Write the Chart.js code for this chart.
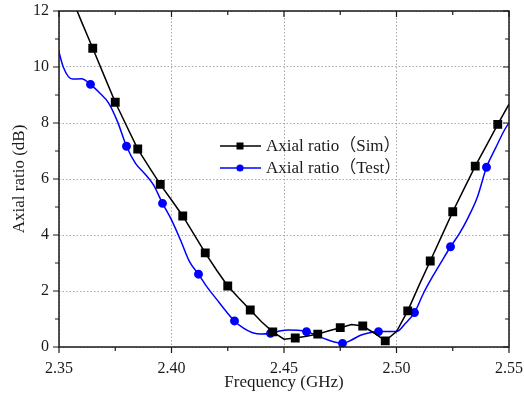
<!DOCTYPE html>
<html>
<head>
<meta charset="utf-8">
<script src="https://cdn.jsdelivr.net/npm/chart.js@4.4.1/dist/chart.umd.min.js"></script>
<style>
html, body { margin: 0; padding: 0; background: #fff; }
#wrap { width: 524px; height: 398px; }
</style>
</head>
<body>
<div id="wrap"><canvas id="arChart" width="524" height="398"></canvas></div>
<script>
// simulated axial ratio (dB) vs frequency (GHz)
const simFreq = [2.355, 2.360, 2.365, 2.370, 2.375, 2.380, 2.385, 2.390, 2.395, 2.400,
                 2.405, 2.410, 2.415, 2.420, 2.425, 2.430, 2.435, 2.440, 2.445, 2.450,
                 2.455, 2.460, 2.465, 2.470, 2.475, 2.480, 2.485, 2.490, 2.495, 2.500,
                 2.505, 2.510, 2.515, 2.520, 2.525, 2.530, 2.535, 2.540, 2.545, 2.550];
const simAR = [12.6, 11.62, 10.67, 9.7, 8.74, 7.9, 7.07, 6.43, 5.81, 5.25,
               4.68, 4.02, 3.36, 2.75, 2.18, 1.74, 1.32, 0.9, 0.54, 0.28,
               0.32, 0.38, 0.46, 0.58, 0.69, 0.8, 0.75, 0.5, 0.22, 0.55,
               1.29, 2.2, 3.07, 3.95, 4.83, 5.65, 6.46, 7.2, 7.95, 8.67];

// measured axial ratio
const testFreq = [2.348, 2.352, 2.356, 2.360, 2.364, 2.368, 2.372, 2.376, 2.380, 2.384,
                  2.388, 2.392, 2.396, 2.400, 2.404, 2.408, 2.412, 2.416, 2.420, 2.424,
                  2.428, 2.432, 2.436, 2.440, 2.444, 2.448, 2.452, 2.456, 2.460, 2.464,
                  2.468, 2.472, 2.476, 2.480, 2.484, 2.488, 2.492, 2.496, 2.500, 2.504,
                  2.508, 2.512, 2.516, 2.520, 2.524, 2.528, 2.532, 2.536, 2.540, 2.544,
                  2.548, 2.552];
const testAR = [11.2, 9.98, 9.57, 9.58, 9.38, 9.08, 8.72, 8.05, 7.17, 6.56,
                6.2, 5.79, 5.13, 4.54, 3.82, 3.05, 2.6, 2.12, 1.71, 1.3,
                0.93, 0.67, 0.51, 0.46, 0.49, 0.57, 0.61, 0.6, 0.55, 0.43,
                0.3, 0.19, 0.13, 0.25, 0.42, 0.51, 0.55, 0.55, 0.55, 0.85,
                1.23, 1.92, 2.51, 3.05, 3.58, 4.06, 4.65, 5.37, 6.42, 7.1,
                7.75, 8.25];

const xMajor = [2.35, 2.40, 2.45, 2.50, 2.55];
const xMinor = [2.375, 2.425, 2.475, 2.525];
const yMajor = [0, 2, 4, 6, 8, 10, 12];
const yMinor = [1, 3, 5, 7, 9, 11];

const serif = '"Liberation Serif", "Times New Roman", "Noto Sans CJK SC", serif';
const ink = '#1a1a1a';

// frame, mirrored ticks and the legend box inside the plot
const framePlugin = {
    id: 'frame',
    afterDraw(chart) {
        const { ctx, chartArea: a, scales: { x, y } } = chart;
        ctx.save();
        ctx.strokeStyle = ink;
        ctx.lineWidth = 1.5;
        ctx.strokeRect(a.left, a.top, a.right - a.left, a.bottom - a.top);

        ctx.lineWidth = 1.2;
        ctx.beginPath();
        const xt = (v, len) => {
            const px = x.getPixelForValue(v);
            ctx.moveTo(px, a.bottom); ctx.lineTo(px, a.bottom + len);
            ctx.moveTo(px, a.top); ctx.lineTo(px, a.top + len);
        };
        const yt = (v, len) => {
            const py = y.getPixelForValue(v);
            ctx.moveTo(a.left, py); ctx.lineTo(a.left - len, py);
            ctx.moveTo(a.right, py); ctx.lineTo(a.right - len, py);
        };
        xMajor.forEach(v => xt(v, 6));
        xMinor.forEach(v => xt(v, 4));
        yMajor.forEach(v => yt(v, 6));
        yMinor.forEach(v => yt(v, 4));
        ctx.stroke();

        // legend
        chart.data.datasets.forEach((ds, i) => {
            const ly = 146 + i * 22;
            ctx.strokeStyle = ds.borderColor;
            ctx.lineWidth = 1.5;
            ctx.beginPath();
            ctx.moveTo(220, ly); ctx.lineTo(261, ly);
            ctx.stroke();
            ctx.fillStyle = ds.borderColor;
            if (ds.pointStyle === 'rect') {
                ctx.fillRect(236.5, ly - 3.5, 7, 7);
            } else {
                ctx.beginPath();
                ctx.arc(240, ly, 3.6, 0, Math.PI * 2);
                ctx.fill();
            }
            ctx.fillStyle = ink;
            ctx.font = '17px ' + serif;
            ctx.textBaseline = 'middle';
            ctx.fillText(ds.label, 266, ly + 1);
        });
        ctx.restore();
    }
};

const ctx = document.getElementById('arChart').getContext('2d');
new Chart(ctx, {
    type: 'line',
    data: {
        datasets: [{
            label: 'Axial ratio（Sim）',
            data: simFreq.map((f, i) => ({ x: f, y: simAR[i] })),
            borderColor: '#000000',
            backgroundColor: '#000000',
            borderWidth: 1.5,
            pointStyle: 'rect',
            pointRadius: c => (c.dataIndex % 2 === 0 && c.dataIndex >= 2 && c.dataIndex <= 38) ? 5.2 : 0,
            pointHoverRadius: 0,
            tension: 0
        }, {
            label: 'Axial ratio（Test）',
            data: testFreq.map((f, i) => ({ x: f, y: testAR[i] })),
            borderColor: '#0000ff',
            backgroundColor: '#0000ff',
            borderWidth: 1.5,
            pointStyle: 'circle',
            pointRadius: c => (c.dataIndex % 4 === 0 && c.dataIndex >= 4 && c.dataIndex <= 48) ? 3.7 : 0,
            pointHoverRadius: 0,
            cubicInterpolationMode: 'monotone'
        }]
    },
    options: {
        responsive: false,
        animation: false,
        layout: { padding: { top: 11, right: 15, left: 0, bottom: 0 } },
        plugins: { legend: { display: false }, tooltip: { enabled: false } },
        scales: {
            x: {
                type: 'linear',
                min: 2.35, max: 2.55,
                afterBuildTicks: s => { s.ticks = xMajor.map(v => ({ value: v })); },
                afterFit: s => { s.height = 51; s.paddingLeft = 0; s.paddingRight = 0; },
                ticks: {
                    callback: v => v.toFixed(2),
                    font: { family: serif, size: 16 },
                    color: ink,
                    padding: 12,
                    maxRotation: 0
                },
                grid: { color: '#a8a8a8', lineWidth: 1, drawTicks: false },
                border: { display: false, dash: [1.5, 2] },
                title: {
                    display: true,
                    text: 'Frequency (GHz)',
                    font: { family: serif, size: 17 },
                    color: ink,
                    padding: { top: 0, bottom: 5 }
                }
            },
            y: {
                min: 0, max: 12,
                afterBuildTicks: s => { s.ticks = yMajor.map(v => ({ value: v })); },
                afterFit: s => { s.width = 59; s.paddingTop = 0; s.paddingBottom = 0; },
                ticks: {
                    font: { family: serif, size: 16 },
                    color: ink,
                    padding: 10
                },
                grid: { color: '#a8a8a8', lineWidth: 1, drawTicks: false },
                border: { display: false, dash: [1.5, 2] },
                title: {
                    display: true,
                    text: 'Axial ratio (dB)',
                    font: { family: serif, size: 17 },
                    color: ink,
                    padding: { top: 9, bottom: 0 }
                }
            }
        }
    },
    plugins: [framePlugin]
});
</script>
</body>
</html>
